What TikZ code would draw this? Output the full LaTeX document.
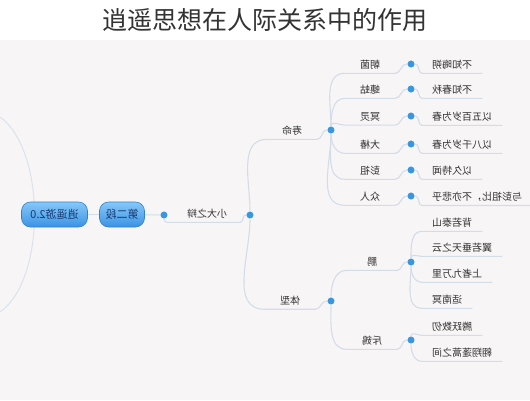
\documentclass[tikz,border=0pt]{standalone}
\usepackage{graphicx}
\usepackage{fontspec}
\setmainfont{Noto Sans CJK SC}
\usetikzlibrary{shapes.misc}
\definecolor{bgc}{HTML}{F8F5F6}
\definecolor{linec}{HTML}{D3DDE8}
\definecolor{dotc}{HTML}{3A96DD}
\definecolor{pilltop}{HTML}{86C8FA}
\definecolor{pillbot}{HTML}{3B93E3}
\definecolor{pilldraw}{HTML}{3480C6}
\definecolor{pilltext}{HTML}{17386F}
\definecolor{txt}{HTML}{333333}
\newcommand\mir[1]{\reflectbox{#1}}
\tikzset{
  conn/.style={draw=linec, line width=1.1pt},
  dotn/.style={circle, fill=dotc, draw=white, line width=0.6pt, minimum size=8pt, inner sep=0pt},
  pill/.style={rounded corners=9pt, top color=pilltop, bottom color=pillbot, draw=pilldraw, line width=0.6pt,
     text=pilltext, font=\fontsize{11}{13}\selectfont, minimum height=25pt, inner xsep=6pt},
  lbl/.style={inner xsep=0pt, inner ysep=3.5pt, text=txt, font=\fontsize{10}{12}\selectfont, minimum width=50pt},
  leaf/.style={anchor=west, inner xsep=10pt, inner ysep=3.5pt, text=txt, font=\fontsize{10}{12}\selectfont},
}
\begin{document}
\begin{tikzpicture}[x=1pt,y=1pt]
\useasboundingbox (0,0) rectangle (530,-400);
\fill[white] (0,0) rectangle (530,-40);
\fill[bgc] (0,-40) rectangle (530,-400);
\node[text=txt, font=\fontsize{25}{28}\selectfont] (title) at (265,-20) {逍遥思想在人际关系中的作用};

% left outer curve
\coordinate (lt) at (0,-117);
\coordinate (lb) at (0,-312);
\draw[conn, draw=linec!80] (lt) .. controls (46,-150) and (46,-280) .. (lb);

% root and second level
\node[pill, minimum width=66pt] (root) at (54.5,-214.5) {\mir{逍遥游2.0}};
\node[pill, minimum width=42pt] (seg) at (122,-214.5) {\mir{第二段}};
\draw[conn] (root) -- (seg);
\node[dotn] (d1) at (164,-215) {};
\draw[conn] (seg) -- (d1);
\node[lbl, minimum width=66pt] (xd) at (207,-214) {\mir{小大之辩}};
\node[dotn] (d2) at (250,-215) {};
\draw[conn] (d1) to[out=-90,in=180] (xd.south west) -- (xd.south east) to[out=0,in=180] (d2);

% 寿命
\node[lbl] (sm) at (292,-131) {\mir{寿命}};
\node[dotn] (d3) at (331,-130) {};
\draw[conn] (d2) to[out=90,in=180] (sm.south west) -- (sm.south east) to[out=0,in=180] (d3);

% 体型
\node[lbl] (tx) at (290,-301) {\mir{体型}};
\node[dotn] (d4) at (331,-301) {};
\draw[conn] (d2) to[out=-90,in=180] (tx.south west) -- (tx.south east) to[out=0,in=180] (d4);

% 寿命 children
\foreach \nm/\y/\lab/\lf in {a/65/朝菌/不知晦朔, b/90/蟪蛄/不知春秋, c/117/冥灵/以五百岁为春, e/145/大椿/以八千岁为春, f/171/彭祖/以久特闻, g/197/众人/与彭祖比，不亦悲乎}{
  \node[lbl] (l\nm) at (370,-\y) {\mir{\lab}};
  \node[dotn] (dd\nm) at (411,-\y+1) {};
  \node[leaf] (f\nm) at (422,-\y) {\mir{\lf}};
}
\draw[conn] (d3) to[out=90,in=180] (la.south west) -- (la.south east) to[out=0,in=180] (dda);
\draw[conn] (d3) to[out=90,in=180] (lb.south west) -- (lb.south east) to[out=0,in=180] (ddb);
\draw[conn] (d3) to[out=90,in=180] (lc.south west) -- (lc.south east) to[out=0,in=180] (ddc);
\draw[conn] (d3) to[out=-90,in=180] (le.south west) -- (le.south east) to[out=0,in=180] (dde);
\draw[conn] (d3) to[out=-90,in=180] (lf.south west) -- (lf.south east) to[out=0,in=180] (ddf);
\draw[conn] (d3) to[out=-90,in=180] (lg.south west) -- (lg.south east) to[out=0,in=180] (ddg);
\foreach \nm in {a,b,c,e,f,g}{
  \draw[conn] (dd\nm) to[out=0,in=180] (f\nm.south west) -- (f\nm.south east);
}

% 体型 children
\node[lbl] (pe) at (372,-262) {\mir{鹏}};
\node[dotn] (dp) at (411,-262) {};
\draw[conn] (d4) to[out=90,in=180] (pe.south west) -- (pe.south east) to[out=0,in=180] (dp);
\node[lbl] (cy) at (372,-341) {\mir{斥鴳}};
\node[dotn] (dc) at (411,-340) {};
\draw[conn] (d4) to[out=-90,in=180] (cy.south west) -- (cy.south east) to[out=0,in=180] (dc);

\node[leaf] (p1) at (422,-223) {\mir{背若泰山}};
\node[leaf] (p2) at (422,-248) {\mir{翼若垂天之云}};
\node[leaf] (p3) at (422,-274) {\mir{上者九万里}};
\node[leaf] (p4) at (422,-300) {\mir{适南冥}};
\draw[conn] (dp) to[out=90,in=180] (p1.south west) -- (p1.south east);
\draw[conn] (dp) to[out=90,in=180] (p2.south west) -- (p2.south east);
\draw[conn] (dp) to[out=-90,in=180] (p3.south west) -- (p3.south east);
\draw[conn] (dp) to[out=-90,in=180] (p4.south west) -- (p4.south east);

\node[leaf] (c1) at (422,-327) {\mir{腾跃数仞}};
\node[leaf] (c2) at (422,-353) {\mir{翱翔蓬蒿之间}};
\draw[conn] (dc) to[out=90,in=180] (c1.south west) -- (c1.south east);
\draw[conn] (dc) to[out=-90,in=180] (c2.south west) -- (c2.south east);
\end{tikzpicture}
\end{document}
